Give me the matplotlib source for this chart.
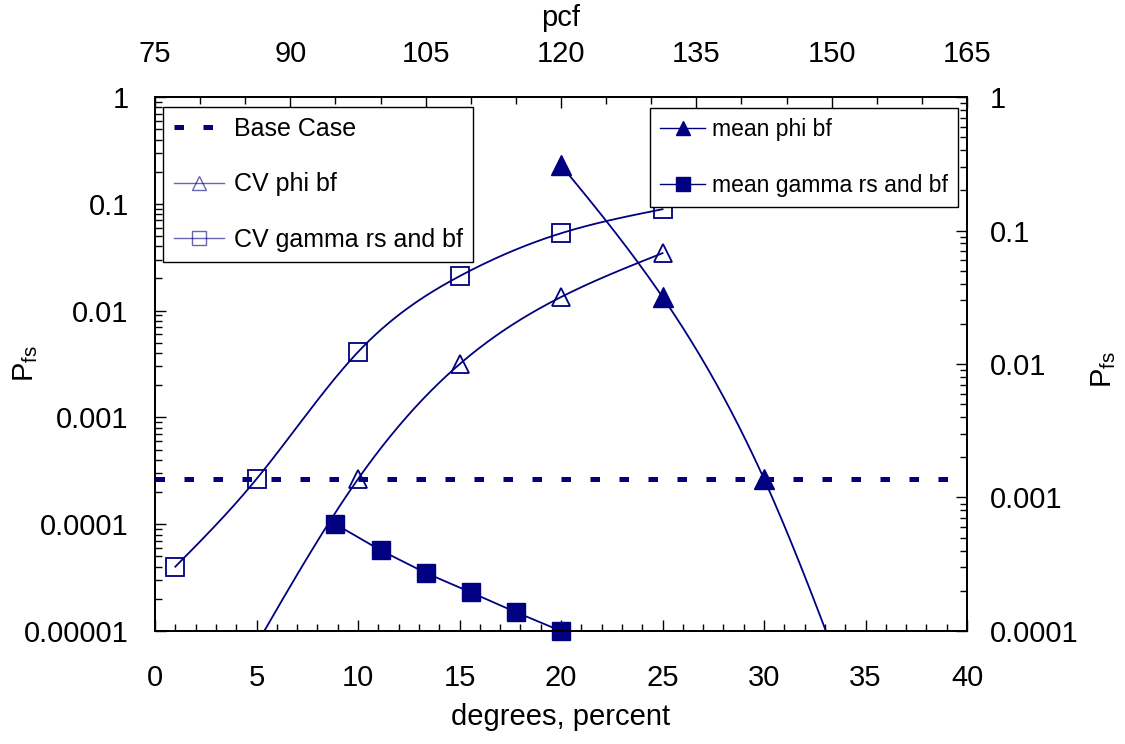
import numpy as np
import matplotlib
matplotlib.use("Agg")
import matplotlib.pyplot as plt
from matplotlib.lines import Line2D
from matplotlib.ticker import LogLocator, FuncFormatter, MultipleLocator, NullFormatter

plt.rcParams['font.family'] = ['Liberation Sans', 'DejaVu Sans']
plt.rcParams['mathtext.fontset'] = 'custom'
plt.rcParams['mathtext.rm'] = 'Liberation Sans'
plt.rcParams['mathtext.it'] = 'Liberation Sans'

NAVY = '#000080'

# data (P_fs on the left scale)
base_case = 2.65e-4

cv_phi_x = [5, 10, 15, 20, 25]
cv_phi_y = [7.5e-6, 2.65e-4, 3.15e-3, 0.0134, 0.0345]     # first point lies below the axis

cv_gamma_x = [1, 5, 10, 15, 20, 25]
cv_gamma_y = [4.0e-5, 2.65e-4, 4.1e-3, 0.021, 0.053, 0.089]

mean_phi_x = [20, 25, 30, 35]
mean_phi_y = [0.23, 0.0134, 2.65e-4, 1.0e-6]               # last point lies below the axis

mean_gamma_pcf = [95, 100, 105, 110, 115, 120]
mean_gamma_y = [1.0e-4, 5.7e-5, 3.5e-5, 2.3e-5, 1.5e-5, 1.0e-5]


def smooth(x, y, n=300):
    # natural cubic spline through the points, done in log10 space
    x = np.asarray(x, float)
    y = np.log10(np.asarray(y, float))
    k = len(x)
    h = np.diff(x)
    A = np.zeros((k, k))
    b = np.zeros(k)
    A[0, 0] = A[-1, -1] = 1
    for i in range(1, k - 1):
        A[i, i - 1] = h[i - 1]
        A[i, i] = 2 * (h[i - 1] + h[i])
        A[i, i + 1] = h[i]
        b[i] = 6 * ((y[i + 1] - y[i]) / h[i] - (y[i] - y[i - 1]) / h[i - 1])
    M = np.linalg.solve(A, b)
    xs = np.linspace(x[0], x[-1], n)
    j = np.clip(np.searchsorted(x, xs) - 1, 0, k - 2)
    t1 = x[j + 1] - xs
    t0 = xs - x[j]
    ys = (M[j] * t1 ** 3 / (6 * h[j]) + M[j + 1] * t0 ** 3 / (6 * h[j])
          + (y[j] / h[j] - M[j] * h[j] / 6) * t1
          + (y[j + 1] / h[j] - M[j + 1] * h[j] / 6) * t0)
    return xs, 10 ** ys


def dec_fmt(v, pos):
    d = max(0, -int(np.floor(np.log10(v) + 1e-6)))
    return f"{v:.{d}f}"


fig = plt.figure(figsize=(11.25, 7.44), dpi=100)
ax = fig.add_axes([0.1378, 0.1519, 0.7218, 0.7177])
ax_top = ax.twiny()
ax_r = ax.twinx()

ms = 13
lw = 1.3

# base case
ax.axhline(base_case, color=NAVY, lw=3.6, ls=(0, (1.9, 3.9)), dash_capstyle='butt')

# CV phi bf
xs, ys = smooth(cv_phi_x, cv_phi_y)
ax.plot(xs, ys, color=NAVY, lw=lw)
ax.plot(cv_phi_x, cv_phi_y, ls='none', marker='^', ms=ms, mfc='none', mec=NAVY, mew=1.3)

# CV gamma rs and bf
xs, ys = smooth(cv_gamma_x, cv_gamma_y)
ax.plot(xs, ys, color=NAVY, lw=lw)
ax.plot(cv_gamma_x, cv_gamma_y, ls='none', marker='s', ms=ms - 0.5, mfc='none', mec=NAVY, mew=1.3)

# mean phi bf
xs, ys = smooth(mean_phi_x, mean_phi_y)
ax.plot(xs, ys, color=NAVY, lw=lw)
ax.plot(mean_phi_x, mean_phi_y, ls='none', marker='^', ms=ms + 1, color=NAVY)

# mean gamma rs and bf (against pcf)
ax_top.plot(mean_gamma_pcf, mean_gamma_y, color=NAVY, lw=lw, marker='s', ms=ms, clip_on=False)

# axes
ax.set_yscale('log')
ax.set_ylim(1e-5, 1)
ax.set_xlim(0, 40)
ax_top.set_xlim(75, 165)
ax_r.set_yscale('log')
ax_r.set_ylim(1e-4, 1)

ax.xaxis.set_major_locator(MultipleLocator(5))
ax.xaxis.set_minor_locator(MultipleLocator(1))
ax_top.xaxis.set_major_locator(MultipleLocator(15))
ax_top.xaxis.set_minor_locator(MultipleLocator(5))
for a in (ax, ax_r):
    a.yaxis.set_major_locator(LogLocator(base=10, numticks=10))
    a.yaxis.set_minor_locator(LogLocator(base=10, subs=np.arange(2, 10), numticks=10))
    a.yaxis.set_major_formatter(FuncFormatter(dec_fmt))
    a.yaxis.set_minor_formatter(NullFormatter())

for a in (ax, ax_top, ax_r):
    a.tick_params(which='major', direction='in', length=8, width=1, labelsize=21)
    a.tick_params(which='minor', direction='in', length=5, width=1)
    for s in a.spines.values():
        s.set_linewidth(1.2)
ax.tick_params(axis='x', which='major', pad=24)
ax_top.tick_params(axis='x', which='major', pad=21)
ax.tick_params(axis='y', which='major', pad=19)
ax_r.tick_params(axis='y', which='major', pad=16.5)

ax.set_xlabel('degrees, percent', fontsize=21)
ax.xaxis.set_label_coords(0.5, -0.135)
ax_top.set_xlabel('pcf', fontsize=21)
ax_top.xaxis.set_label_coords(0.5, 1.133)
ax.set_ylabel('P$_{\\rm fs}$', fontsize=21)
ax.yaxis.set_label_coords(-0.142, 0.5)
ax_r.set_ylabel('P$_{\\rm fs}$', fontsize=21)
ax_r.yaxis.set_label_coords(1.150, 0.49)

# legends
h_left = [
    Line2D([], [], color=NAVY, lw=3.6, ls=(0, (1.9, 3.9)), dash_capstyle='butt'),
    Line2D([], [], color=NAVY, lw=1, alpha=0.6, marker='^', ms=10, mfc='none', mec=NAVY),
    Line2D([], [], color=NAVY, lw=1, alpha=0.6, marker='s', ms=10, mfc='none', mec=NAVY),
]
h_right = [
    Line2D([], [], color=NAVY, lw=1, marker='^', ms=10),
    Line2D([], [], color=NAVY, lw=1, marker='s', ms=10),
]
leg1 = ax_r.legend(h_left, ['Base Case', 'CV phi bf', 'CV gamma rs and bf'],
                   loc='upper left', bbox_to_anchor=(0.0099, 0.982), fontsize=18,
                   frameon=True, fancybox=False, framealpha=1, edgecolor='black',
                   labelspacing=1.25, handlelength=2.0, handletextpad=0.4,
                   borderpad=0.42, borderaxespad=0)
leg1.get_frame().set_linewidth(1)
ax_r.add_artist(leg1)
leg2 = ax_r.legend(h_right, ['mean phi bf', 'mean gamma rs and bf'],
                   loc='upper right', bbox_to_anchor=(0.9889, 0.98), fontsize=16.5,
                   frameon=True, fancybox=False, framealpha=1, edgecolor='black',
                   labelspacing=1.42, handlelength=1.95, handletextpad=0.3,
                   borderpad=0.45, borderaxespad=0)
leg2.get_frame().set_linewidth(1)

fig.savefig('out.png', dpi=100)
